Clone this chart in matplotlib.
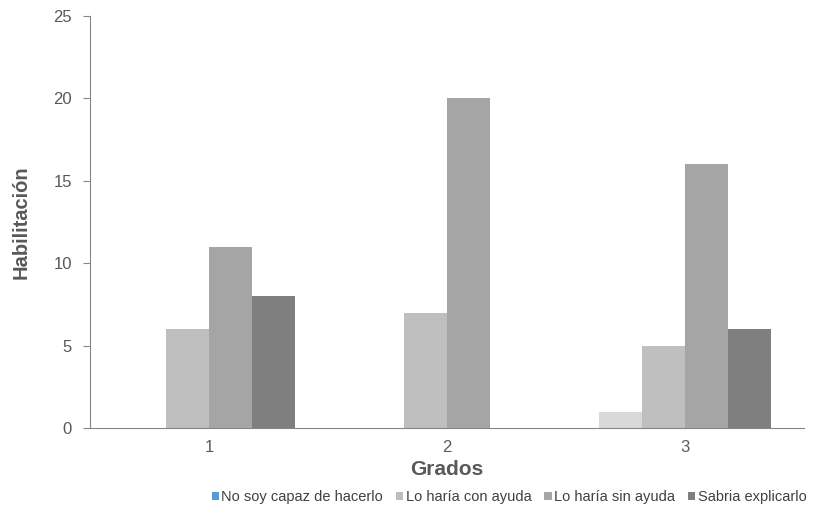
import numpy as np
import matplotlib.pyplot as plt
from matplotlib.patches import Patch

plt.rcParams['font.family'] = ['Liberation Sans', 'DejaVu Sans']

grados = ["1", "2", "3"]
series = ["No soy capaz de hacerlo", "Lo haría con ayuda", "Lo haría sin ayuda", "Sabria explicarlo"]
no_soy = [0, 0, 1]
con_ayuda = [6, 7, 5]
sin_ayuda = [11, 20, 16]
sabria = [8, 0, 6]

bar_colors = ["#d9d9d9", "#bfbfbf", "#a5a5a5", "#7f7f7f"]
legend_colors = ["#5b9bd5", "#bfbfbf", "#a5a5a5", "#7f7f7f"]
axis_grey = "#868686"
text_grey = "#595959"

fig = plt.figure(figsize=(8.17, 5.12), dpi=100)
ax = fig.add_axes([90 / 817, 1 - 428 / 512, 714 / 817, 412 / 512])

x = np.arange(len(grados)) + 1
w = 0.18
for i, vals in enumerate([no_soy, con_ayuda, sin_ayuda, sabria]):
    ax.bar(x + (i - 1.5) * w, vals, w, color=bar_colors[i], edgecolor="none")

ax.set_xlim(0.5, 3.5)
ax.set_ylim(0, 25)
ax.set_yticks(range(0, 26, 5))
ax.set_xticks(x)
ax.set_xticklabels(grados)
for s in ["top", "right"]:
    ax.spines[s].set_visible(False)
for s in ["left", "bottom"]:
    ax.spines[s].set_color(axis_grey)
ax.tick_params(axis="y", colors=axis_grey, labelcolor=text_grey, labelsize=12, length=5, pad=8)
ax.tick_params(axis="x", length=0, labelcolor=text_grey, labelsize=12, pad=9)

ax.set_xlabel("Grados", fontsize=15, fontweight="bold", color=text_grey, labelpad=3)
ax.set_ylabel("Habilitación", fontsize=14.5, fontweight="bold", color=text_grey, labelpad=16)

handles = [Patch(facecolor=c, edgecolor="none") for c in legend_colors]
fig.legend(handles, series, loc="lower right", bbox_to_anchor=(1.003, -0.01), ncol=4,
           frameon=False, fontsize=10.5, handlelength=0.5, handleheight=0.5,
           handletextpad=0.15, columnspacing=0.9, labelcolor="#404040")

fig.savefig("out.png", dpi=100)
